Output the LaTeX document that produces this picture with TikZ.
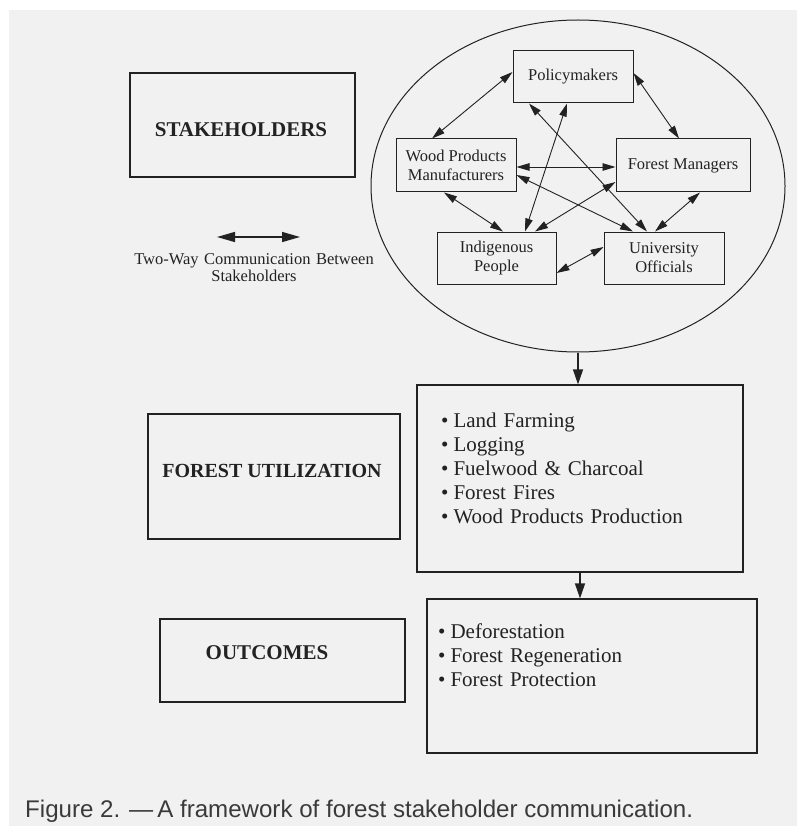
\documentclass[tikz,border=0pt]{standalone}
\usepackage{fontspec}
\setmainfont{Liberation Serif}
\newfontfamily\capfont{Liberation Sans}
\usetikzlibrary{shapes.geometric,arrows.meta,calc}
\definecolor{bg}{HTML}{F1F1F1}
\definecolor{ink}{HTML}{222222}
\definecolor{capgray}{HTML}{3A3A3A}
\begin{document}
\begin{tikzpicture}[x=1pt,y=-1pt,
  every node/.style={text=ink},
  sbox/.style={draw=ink,line width=1pt,rectangle,inner sep=0pt,font=\fontsize{16.5}{19}\selectfont,align=center},
  lbox/.style={draw=ink,line width=1.2pt,rectangle,inner sep=0pt},
  biglabel/.style={font=\fontsize{21}{24}\selectfont\bfseries,inner sep=0pt},
  twoway/.style={draw=ink,line width=0.9pt,{Triangle[length=13pt,width=7.5pt]}-{Triangle[length=13pt,width=7.5pt]}},
  legendarrow/.style={draw=ink,line width=1.4pt,{Triangle[length=18pt,width=10pt]}-{Triangle[length=18pt,width=10pt]}},
  flow/.style={draw=ink,line width=1.2pt,-{Triangle[length=15pt,width=10pt]}},
  listtext/.style={font=\fontsize{21}{24}\selectfont,inner sep=0pt,anchor=base west,text width=300pt,align=left}
]
\useasboundingbox (0,0) rectangle (797,826);
\fill[white] (0,0) rectangle (797,826);
\fill[bg] (9,10) rectangle (797,826);

% ellipse of stakeholders
\node[draw=ink,line width=1pt,ellipse,minimum width=414pt,minimum height=332pt,inner sep=0pt] (ell) at (578,186) {};

\node[sbox,minimum width=120pt,minimum height=52pt] (pol) at (573,77) {Policymakers};
\node[sbox,minimum width=120pt,minimum height=53pt] (wood) at (456,165.5) {Wood Products\\Manufacturers};
\node[sbox,minimum width=134pt,minimum height=53pt] (fm) at (683,165.5) {Forest Managers};
\node[sbox,minimum width=119pt,minimum height=52pt] (ind) at (496.5,258) {Indigenous\\People};
\node[sbox,minimum width=120pt,minimum height=52pt] (uni) at (664,258) {University\\Officials};

\draw[twoway] ([yshift=5pt]pol.west) -- ([xshift=-24pt]wood.north);
\draw[twoway] ([yshift=4pt]pol.east) -- ([xshift=-4pt]fm.north);
\draw[twoway] ([xshift=-44pt]pol.south) -- ([xshift=-17pt]uni.north);
\draw[twoway] ([xshift=-6pt]pol.south) -- ([xshift=28.5pt]ind.north);
\draw[twoway] ([yshift=-1.5pt]wood.east) -- ([yshift=-1.5pt]fm.west);
\draw[twoway] ([yshift=-9.5pt]wood.east) -- ([xshift=-31pt]uni.north);
\draw[twoway] ([xshift=-12pt]wood.south) -- ([xshift=6.5pt]ind.north);
\draw[twoway] ([yshift=-16.5pt]fm.west) -- ([xshift=38.5pt]ind.north);
\draw[twoway] ([xshift=17pt]fm.south) -- ([xshift=-9pt]uni.north);
\draw[twoway] ([yshift=-15pt]ind.east) -- ([yshift=11pt]uni.west);

% left column
\node[lbox,minimum width=225pt,minimum height=104pt] (stk) at (242.5,125) {};
\node[biglabel] (stkt) at (241,130) {STAKEHOLDERS};

\coordinate (lgA) at (217,237);
\coordinate (lgB) at (300,237);
\draw[legendarrow] (lgA) -- (lgB);
\node[font=\fontsize{16.5}{17.7}\selectfont,inner sep=0pt,anchor=base,text width=300pt,align=center] (lgt) at (254,264) {Two-Way Communication Between\\Stakeholders};

\node[lbox,minimum width=252pt,minimum height=125pt] (fu) at (274,476.5) {};
\node[biglabel,font=\fontsize{20}{24}\selectfont\bfseries] (fut) at (272,471) {FOREST UTILIZATION};

\node[lbox,minimum width=245pt,minimum height=83pt] (oc) at (282.5,660.5) {};
\node[biglabel] (oct) at (267,653) {OUTCOMES};

% right column
\node[lbox,minimum width=326pt,minimum height=187pt] (items) at (580,478.5) {};
\node[listtext] (itemst) at (441,427) {\textbullet\hspace{5pt}Land Farming\\
\textbullet\hspace{5pt}Logging\\
\textbullet\hspace{5pt}Fuelwood \& Charcoal\\
\textbullet\hspace{5pt}Forest Fires\\
\textbullet\hspace{5pt}Wood Products Production};

\node[lbox,minimum width=330pt,minimum height=154pt] (out) at (592,676) {};
\node[listtext] (outt) at (438,638) {\textbullet\hspace{5pt}Deforestation\\
\textbullet\hspace{5pt}Forest Regeneration\\
\textbullet\hspace{5pt}Forest Protection};

\draw[flow] (ell.south) -- (ell.south |- items.north);
\draw[flow] (items.south) -- (items.south |- out.north);

\node[font=\capfont\fontsize{24.1}{28}\selectfont,text=capgray,anchor=base west,inner sep=0pt] (cap) at (25,817) {Figure 2. —\,A framework of forest stakeholder communication.};
\end{tikzpicture}
\end{document}
